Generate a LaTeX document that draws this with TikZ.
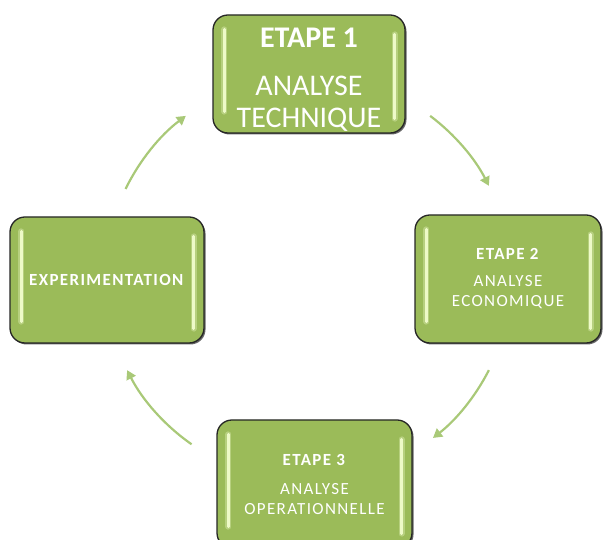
\documentclass[tikz,border=0pt]{standalone}
\usepackage{fontspec}
\setmainfont{Carlito}
\usetikzlibrary{arrows.meta,shadows}
\definecolor{stepgreen}{RGB}{155,187,89}
\definecolor{shinegreen}{RGB}{238,250,200}
\definecolor{flowgreen}{RGB}{169,201,120}
\tikzset{
stepbox/.style={rounded corners=15pt, fill=stepgreen, draw=black!85, line width=1.3pt,
  text=white, align=center, inner sep=0pt,
  drop shadow={shadow xshift=1.5pt, shadow yshift=-1.5pt, opacity=0.6, fill=black}},
bigtext/.style={font=\fontsize{30}{32}\selectfont},
smalltext/.style={font=\fontsize{17}{20}\selectfont\addfontfeatures{LetterSpace=8}},
shine/.style={draw=shinegreen, line width=3pt, line cap=round},
glow/.style={draw=shinegreen, line width=6pt, line cap=round, opacity=0.35},
flow/.style={draw=flowgreen, line width=2.2pt, -{Triangle[length=9pt,width=10pt]}}
}
\newcommand{\drawstep}[7]{%
\node[stepbox, #2, minimum width=#5, minimum height=#6] (#1) at (#3,#4) {#7};
\draw[glow] ([xshift=12pt,yshift=-15pt]#1.north west) -- ([xshift=12pt,yshift=22pt]#1.south west);
\draw[glow] ([xshift=-11pt,yshift=-20pt]#1.north east) -- ([xshift=-11pt,yshift=15pt]#1.south east);
\draw[shine] ([xshift=12pt,yshift=-15pt]#1.north west) -- ([xshift=12pt,yshift=22pt]#1.south west);
\draw[shine] ([xshift=-11pt,yshift=-20pt]#1.north east) -- ([xshift=-11pt,yshift=15pt]#1.south east);
}
\newcommand{\drawflow}[3]{%
\coordinate (#1) at ([shift={(#2:203pt)}]hub);
\draw[flow] (#1) arc[start angle=#2, end angle=#3, radius=203pt];
}

\begin{document}
\begin{tikzpicture}[x=1pt,y=1pt]

\useasboundingbox (0,0) rectangle (603,540);
\coordinate (hub) at (308,262);

% the four steps
\drawstep{technique}{bigtext}{309}{466}{192pt}{118pt}{\rule{0pt}{31pt}\textbf{ETAPE 1}\\[16pt]ANALYSE\\TECHNIQUE}
\drawstep{economique}{smalltext}{508}{261}{186pt}{128pt}{\textbf{ETAPE 2}\\[7pt]ANALYSE\\ECONOMIQUE}
\drawstep{operation}{smalltext}{314.5}{56}{195pt}{128pt}{\textbf{ETAPE 3}\\[9pt]ANALYSE\\OPERATIONNELLE}
\drawstep{experience}{smalltext}{107}{260}{194pt}{126pt}{\textbf{EXPERIMENTATION}}

% the cycle
\drawflow{flowA}{53}{27}
\drawflow{flowB}{-27}{-52}
\drawflow{flowC}{-125}{-153}
\drawflow{flowD}{154}{127}

\end{tikzpicture}
\end{document}
